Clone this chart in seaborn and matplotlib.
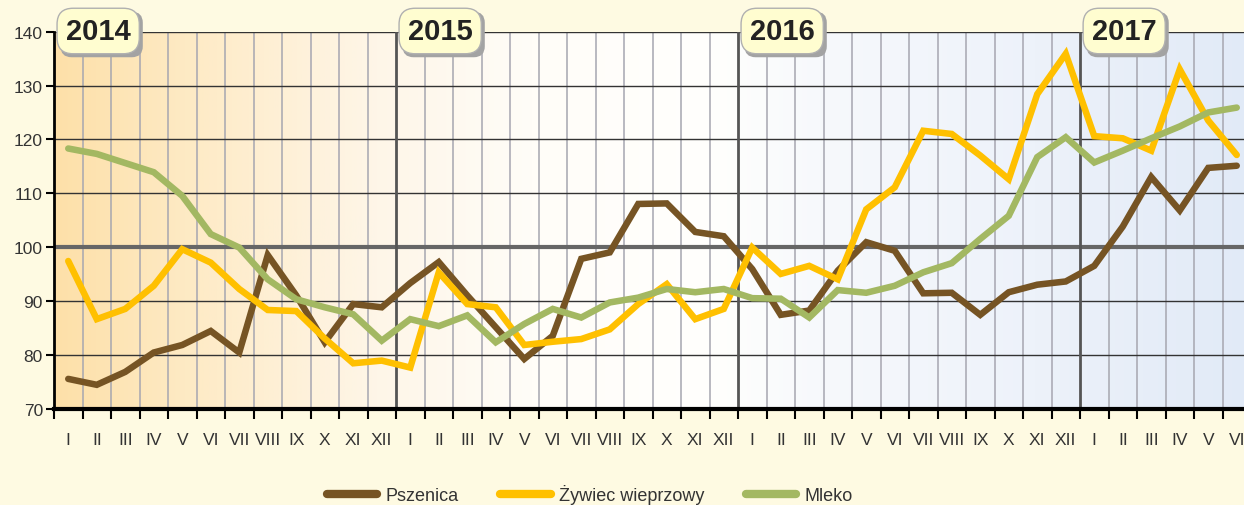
import numpy as np
import pandas as pd
import matplotlib
matplotlib.use("Agg")
import matplotlib.pyplot as plt
import seaborn as sns
from matplotlib.colors import LinearSegmentedColormap
from matplotlib.patches import FancyBboxPatch
from matplotlib.transforms import IdentityTransform
from matplotlib.lines import Line2D

# ---------------- data ----------------
years = ["2014", "2015", "2016", "2017"]
months = ["I", "II", "III", "IV", "V", "VI", "VII", "VIII", "IX", "X", "XI", "XII"]
month_labels = months * 3 + months[:6]

pszenica = [75.5, 74.4, 76.8, 80.4, 81.8, 84.4, 80.4, 98.5, 91.0, 82.3, 89.4, 88.8,
            93.3, 97.2, 91.0, 85.1, 79.2, 83.5, 97.8, 99.0, 108.0, 108.1, 102.8, 102.0,
            95.9, 87.4, 88.2, 95.6, 100.9, 99.3, 91.4, 91.5, 87.4, 91.6, 93.0, 93.6,
            96.5, 103.8, 113.0, 106.8, 114.7, 115.1]
zywiec = [97.4, 86.6, 88.5, 92.8, 99.6, 97.1, 92.2, 88.3, 88.1, 83.0, 78.4, 78.9,
          77.6, 95.3, 89.4, 88.8, 81.8, 82.4, 82.9, 84.7, 89.4, 93.1, 86.6, 88.5,
          99.9, 95.0, 96.5, 94.0, 107.0, 111.1, 121.6, 121.0, 117.0, 112.6, 128.4, 135.9,
          120.6, 120.2, 117.9, 133.0, 123.5, 117.1]
mleko = [118.3, 117.3, 115.6, 113.9, 109.5, 102.4, 99.9, 94.0, 90.3, 88.8, 87.5, 82.6,
         86.6, 85.3, 87.3, 82.3, 85.7, 88.5, 86.9, 89.7, 90.6, 92.2, 91.6, 92.2,
         90.5, 90.4, 86.9, 92.0, 91.5, 92.8, 95.3, 97.0, 101.5, 105.8, 116.7, 120.4,
         115.7, 117.9, 120.2, 122.4, 125.0, 125.9]

series_names = ["Pszenica", "Żywiec wieprzowy", "Mleko"]
series_colors = ["#765424", "#ffc000", "#a3b862"]

n = len(month_labels)
df = pd.DataFrame({
    "idx": np.tile(np.arange(n) + 0.5, 3),
    "value": pszenica + zywiec + mleko,
    "series": np.repeat(series_names, n),
})

# ---------------- figure ----------------
sns.set_theme(style="white")
plt.rcParams["font.family"] = ["Liberation Sans", "DejaVu Sans"]

W, H = 1244, 506
fig = plt.figure(figsize=(W / 100, H / 100), dpi=100)
fig.patch.set_facecolor("#fefae2")

ax_left, ax_bottom, ax_top = 54, 96.5, 473.3
month_px = 28.5
ax = fig.add_axes([ax_left / W, ax_bottom / H, n * month_px / W, (ax_top - ax_bottom) / H])

# gradient background
stops = [(0.0, "#fde0a9"), (0.12, "#feebc7"), (0.27, "#fef6e8"), (0.40, "#fffdf8"),
         (0.55, "#fffffd"), (0.64, "#f7f9fc"), (0.82, "#edf2fa"), (1.0, "#e1eaf7")]
cmap = LinearSegmentedColormap.from_list("bg", stops)
grad = np.linspace(0, 1, 512).reshape(1, -1)
ax.imshow(grad, aspect="auto", cmap=cmap, extent=[0, n, 70, 140], zorder=0)
ax.set_facecolor("none")

# grid lines
for v in np.arange(1, n):
    if v % 12 != 0:
        ax.axvline(v, color="#a6a6b0", lw=1.1, zorder=1)
for v in [80, 90, 110, 120, 130, 140]:
    ax.axhline(v, color="#333333", lw=1.0, zorder=1)
ax.axhline(100, color="#666666", lw=3.0, zorder=1.5)
for k in range(1, len(years)):
    ax.axvline(12 * k, color="#555555", lw=2.0, zorder=1.5)

# lines
sns.lineplot(data=df, x="idx", y="value", hue="series", palette=series_colors,
             hue_order=series_names, lw=4.7, ax=ax, legend=False, zorder=3,
             solid_capstyle="round", solid_joinstyle="miter")

ax.set_xlim(0, n)
ax.set_ylim(70, 140)
ax.set_xlabel("")
ax.set_ylabel("")

ax.set_yticks(np.arange(70, 141, 10))
ax.tick_params(axis="y", which="major", direction="out", length=6, width=1.5,
               color="black", labelsize=12.5, labelcolor="#333333", pad=2, left=True)

ax.set_xticks(np.arange(n) + 0.5)
ax.set_xticklabels(month_labels)
ax.set_xticks(np.arange(0, n + 1), minor=True)
ax.tick_params(axis="x", which="major", length=0, labelsize=12.5,
               labelcolor="#333333", pad=17)
ax.tick_params(axis="x", which="minor", direction="out", length=7.5, width=1.5,
               color="black", bottom=True)

for s in ["top", "right"]:
    ax.spines[s].set_visible(False)
ax.spines["left"].set_color("black")
ax.spines["left"].set_linewidth(2)
ax.spines["bottom"].set_color("black")
ax.spines["bottom"].set_linewidth(3)
ax.spines["left"].set_zorder(4)
ax.spines["bottom"].set_zorder(4)

# year boxes
ytxt = 1 - 32 / H
tr = matplotlib.transforms.blended_transform_factory(ax.transData, fig.transFigure)
year_texts = []
for k, yr in enumerate(years):
    t = ax.text(12 * k + 1.55, ytxt, yr, transform=tr, color="#222222", zorder=7,
                ha="center", va="center", fontsize=21, fontweight="bold",
                bbox=dict(boxstyle="round,pad=0.3,rounding_size=0.55", fc="#fffdd0",
                          ec="#b0b0b0", lw=1), clip_on=False)
    year_texts.append(t)

fig.canvas.draw()
renderer = fig.canvas.get_renderer()
for t in year_texts:
    bp = t.get_bbox_patch()
    ext = bp.get_window_extent(renderer)
    shadow = FancyBboxPatch((ext.x0 + 3.5, ext.y0 - 3.5), ext.width, ext.height,
                            boxstyle="round,pad=0,rounding_size=11",
                            fc="#a3a3a3", ec="none", transform=IdentityTransform(),
                            zorder=6, clip_on=False)
    ax.add_artist(shadow)

# legend
handles = [Line2D([0], [0], color=c, lw=6, solid_capstyle="round") for c in series_colors]
fig.legend(handles, series_names, loc="center", bbox_to_anchor=(0.474, 11 / H),
           ncol=3, frameon=False, fontsize=13, handlelength=2.8, handletextpad=0.45,
           columnspacing=2.3, labelcolor="#333333")

fig.savefig("out.png", dpi=100, facecolor=fig.get_facecolor())
